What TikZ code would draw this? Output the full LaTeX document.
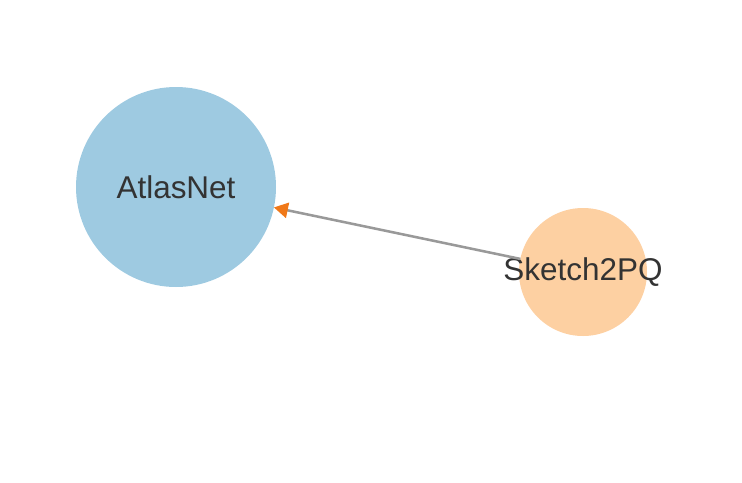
\documentclass[tikz,border=0pt]{standalone}
\usepackage{fontspec}
\setmainfont{Liberation Sans}
\usetikzlibrary{arrows.meta}
\definecolor{nodeblue}{HTML}{9ECAE1}
\definecolor{nodepeach}{HTML}{FDD0A2}
\definecolor{edgegray}{HTML}{999999}
\definecolor{tiporange}{HTML}{F07818}
\definecolor{txt}{HTML}{333333}
\begin{document}
\begin{tikzpicture}[x=0.75pt,y=-0.75pt,
  vert/.style={circle,draw=none,inner sep=0pt,outer sep=0pt,text=txt,font=\fontsize{23.6pt}{27pt}\selectfont},
  link/.style={draw=edgegray,line width=1.9pt,-{Triangle[length=10.5pt,width=11.5pt,color=tiporange]}}]
\useasboundingbox (0,0) rectangle (742,482);
\node[vert,fill=nodeblue,minimum size=150pt] (atlas) at (176,187) {\makebox[0pt]{AtlasNet}};
\node[vert,fill=nodepeach,minimum size=96pt] (sketch) at (583,272) {\makebox[0pt]{Sketch2PQ}};
\draw[link] (sketch) -- (atlas);
\end{tikzpicture}
\end{document}
